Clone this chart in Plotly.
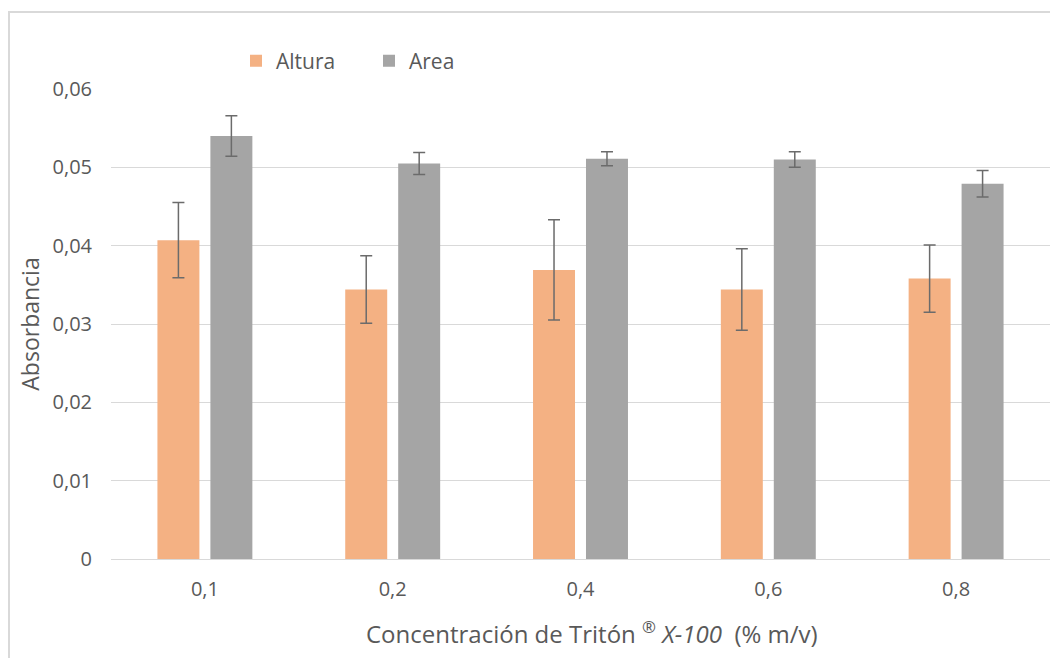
import plotly.graph_objects as go

categories = ["0,1", "0,2", "0,4", "0,6", "0,8"]
altura = [0.0407, 0.0344, 0.0369, 0.0344, 0.0358]
altura_err = [0.0048, 0.0043, 0.0064, 0.0052, 0.0043]
area = [0.0540, 0.0505, 0.0511, 0.0510, 0.0479]
area_err = [0.0026, 0.0014, 0.0009, 0.0010, 0.0017]
y_tickvals = [0, 0.01, 0.02, 0.03, 0.04, 0.05, 0.06]
y_ticktext = ["0", "0,01", "0,02", "0,03", "0,04", "0,05", "0,06"]
x_title = "Concentración de Tritón <sup>®</sup> <i>X-100</i>  (% m/v)"

FONT = "Open Sans"
TXT = "#595959"
GRID = "#D9D9D9"

# page body adds an 8px offset; layout numbers compensate for it
OFF = 8
L, R_EDGE, T, B_EDGE = 111 - OFF, 1050 - OFF, 89 - OFF, 559 - OFF
W, H = 1058, 658

fig = go.Figure()
fig.add_trace(go.Bar(
    name="Altura", x=categories, y=altura,
    marker=dict(color="#F4B183", line=dict(width=0)),
    error_y=dict(type="data", array=altura_err, visible=True,
                 color="#6B6B6B", thickness=1.5, width=6),
))
fig.add_trace(go.Bar(
    name="Area", x=categories, y=area,
    marker=dict(color="#A5A5A5", line=dict(width=0)),
    error_y=dict(type="data", array=area_err, visible=True,
                 color="#6B6B6B", thickness=1.5, width=6),
))

fig.update_layout(
    width=W, height=H,
    margin=dict(l=L, r=W - R_EDGE, t=T, b=H - B_EDGE),
    paper_bgcolor="white", plot_bgcolor="white",
    barmode="group", bargap=0.436, bargroupgap=0.2075,
    font=dict(family=FONT, size=20, color=TXT),
    showlegend=True,
    legend=dict(orientation="h", x=(236 - 111) / 939, y=(559 - 61) / 470,
                xanchor="left", yanchor="middle",
                font=dict(family=FONT, size=21, color=TXT),
                itemwidth=30, entrywidth=88, entrywidthmode="pixels",
                traceorder="normal", bgcolor="rgba(0,0,0,0)"),
    xaxis=dict(
        type="category", showgrid=False, showline=True, linecolor=GRID, linewidth=1,
        ticks="", ticklabelstandoff=12, tickfont=dict(family=FONT, size=20, color=TXT),
    ),
    yaxis=dict(
        range=[0, 0.06], tickvals=y_tickvals, ticktext=y_ticktext,
        showgrid=True, gridcolor=GRID, gridwidth=1, zeroline=False, showline=False,
        tickfont=dict(family=FONT, size=20, color=TXT), ticklabelstandoff=18,
        title=dict(text="Absorbancia", font=dict(family=FONT, size=23, color=TXT), standoff=6),
    ),
    annotations=[dict(text=x_title, xref="paper", yref="paper",
                      x=(592 - 111) / 939, y=(559 - 632) / 470,
                      xanchor="center", yanchor="middle", showarrow=False,
                      font=dict(family=FONT, size=24, color=TXT))],
    shapes=[dict(type="rect", xref="paper", yref="paper",
                 x0=(9 - 111) / 939, x1=1.3, y0=-0.5, y1=(559 - 12) / 470,
                 line=dict(color=GRID, width=2), fillcolor="rgba(0,0,0,0)", layer="below")],
)

fig.write_html("out.html")
